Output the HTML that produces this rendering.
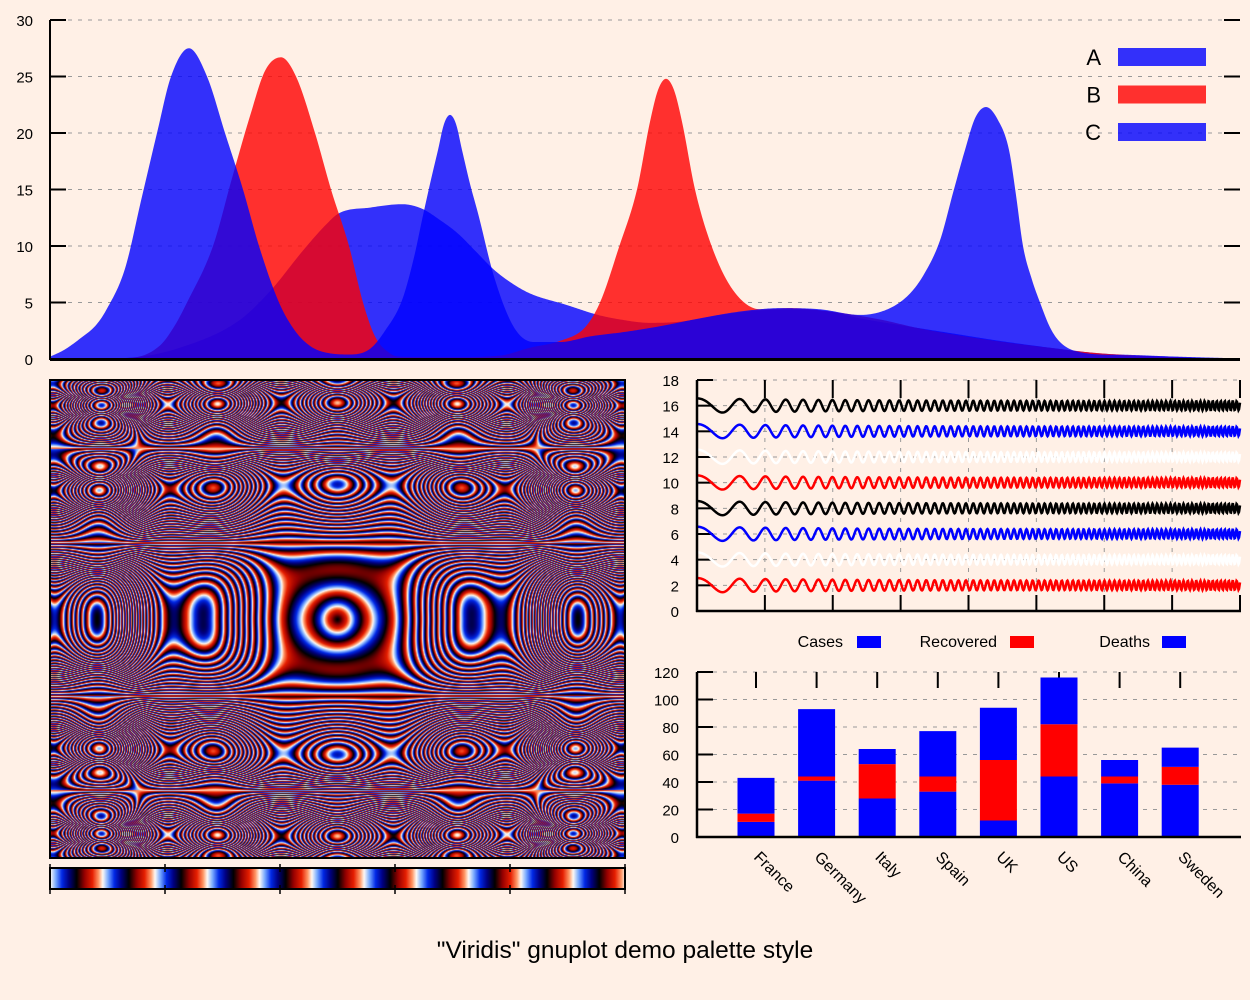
<!DOCTYPE html>
<html><head><meta charset="utf-8">
<style>
html,body{margin:0;padding:0;background:#fff0e6;}
#wrap{position:relative;width:1250px;height:1000px;overflow:hidden;background:#fff0e6;font-family:"Liberation Sans",sans-serif;}
canvas{position:absolute;}
svg{position:absolute;left:0;top:0;}
</style></head>
<body>
<div id="wrap">
<canvas id="heat" width="575" height="478" style="left:50px;top:380px"></canvas>
<canvas id="cbar" width="575" height="21" style="left:50px;top:868px"></canvas>
<svg id="svg" width="1250" height="1000" xmlns="http://www.w3.org/2000/svg">
<text x="625" y="958" font-size="24.5" text-anchor="middle" font-family="Liberation Sans, sans-serif">"Viridis" gnuplot demo palette style</text>
</svg>
</div>
<script>
// ---- top area chart data (x in data units 0..119) ----
const aX = [0,5,7.8,13,18.9,22,25.3,27.5,28.9,32,35.2,37.2,39,40.8,42.6,44.4,46.2,48,51.6,54.8,57,60,63,67,71,75,78,81,85,90,95,100,105,110,115,119];
const aY = [0,0.05,0.1,1.0,3.4,6,9.6,11.8,12.9,13.4,13.7,13.3,12.3,11.1,9.5,7.9,6.7,5.8,4.8,3.9,3.5,3.2,3.3,3.9,4.3,4.4,4.2,3.6,3.0,2.3,1.6,1.0,0.5,0.3,0.1,0];
const bX = [0,8,11,12.5,13.7,16.3,18.2,20,21.5,23.1,24.6,26.5,28.1,29.9,31.3,32.5,34,35,40,45,48,51,53.5,55,56.9,58.7,60,60.8,61.6,62.4,63.2,64.5,66.2,68.3,71,74,78,83,87,93,99,105,113,119];
const bY = [0,0.1,1.2,3,5,10,16,21.5,25.5,26.7,25,20,15,10,5,2,0.5,0.2,0.15,0.3,1.0,1.6,2.8,5,9.9,15,21,23.8,24.8,23.8,21,15,9.9,6.1,4.4,4.5,4.2,3.5,2.7,1.8,1.1,0.5,0.15,0];
const cX = [0,1.4,3,4.6,5.6,7.5,9.1,10.7,12.1,13.9,15.7,17.5,19.3,20.9,22.9,24.5,26.1,28,30,32,33.5,35.2,36.4,37.2,38,38.8,39.4,40,40.6,41.2,42,42.8,44.4,46.4,48.4,51,54,57.5,61,65,69,73,77,81,84,86,87.4,89,90.3,91.5,92.5,93.6,94.7,95.9,96.6,97.3,98.2,99,100,101,103,107,113,119];
const cY = [0.2,0.8,1.8,3.0,4.3,8,14,20,25,27.5,25,20,15,10,5,2.5,1.1,0.5,0.4,0.9,2.5,5.2,9,12.3,15.5,18.5,20.8,21.6,20.8,18.5,15.5,12.9,7.3,2.8,1.5,1.5,2.0,2.4,2.9,3.6,4.2,4.5,4.4,3.9,4.5,5.8,7.5,10.5,14.7,18.5,21.3,22.3,21.3,18.5,14.5,10,7,5,2.8,1.5,0.6,0.35,0.2,0.05];
const topTicks = [0,5,10,15,20,25,30];
const legendNames = ["A","B","C"];

// ---- wave chart data ----
const waveOffsets = [2,4,6,8,10,12,14,16];
const waveColors = ["#ff0000","#ffffff","#0000ff","#000000","#ff0000","#ffffff","#0000ff","#000000"];
const waveTicks = [0,2,4,6,8,10,12,14,16,18];

// ---- bar chart data ----
const countries = ["France","Germany","Italy","Spain","UK","US","China","Sweden"];
const deaths = [11,41,28,33,12,44,39,38];
const recovered = [6,3,25,11,44,38,5,13];
const cases = [26,49,11,33,38,34,12,14];
const barTicks = [0,20,40,60,80,100,120];

const NS = "http://www.w3.org/2000/svg";
const svg = document.getElementById('svg');
function mk(tag, attrs, parent){
  const e = document.createElementNS(NS, tag);
  for (const k in attrs) e.setAttribute(k, attrs[k]);
  (parent||svg).appendChild(e);
  return e;
}
function txt(x,y,s,size,anchor,parent){
  const t = mk('text',{x:x,y:y,'font-size':size,'text-anchor':anchor||'start','font-family':'Liberation Sans, sans-serif',fill:'#000'},parent);
  t.textContent = s; return t;
}

// monotone cubic interpolation
function mono(xs, ys){
  const n = xs.length, d=[], m=[];
  for(let i=0;i<n-1;i++) d.push((ys[i+1]-ys[i])/(xs[i+1]-xs[i]));
  m.push(d[0]);
  for(let i=1;i<n-1;i++){ m.push(d[i-1]*d[i]<=0?0:(d[i-1]+d[i])/2); }
  m.push(d[n-2]);
  for(let i=0;i<n-1;i++){
    if(d[i]===0){m[i]=0;m[i+1]=0;continue;}
    const a=m[i]/d[i], b=m[i+1]/d[i], s=a*a+b*b;
    if(s>9){const t=3/Math.sqrt(s); m[i]=t*a*d[i]; m[i+1]=t*b*d[i];}
  }
  return function(x){
    let i=0; while(i<n-2 && x>xs[i+1]) i++;
    const h=xs[i+1]-xs[i], t=Math.max(0,Math.min(1,(x-xs[i])/h));
    const t2=t*t,t3=t2*t;
    return (2*t3-3*t2+1)*ys[i]+(t3-2*t2+t)*h*m[i]+(-2*t3+3*t2)*ys[i+1]+(t3-t2)*h*m[i+1];
  };
}

// ===== Top chart =====
const T = {x0:50,x1:1240,y0:359,y1:20,dmin:0,dmax:119,vmax:30};
const tx = d => T.x0 + (d-T.dmin)/(T.dmax-T.dmin)*(T.x1-T.x0);
const ty = v => T.y0 - v/T.vmax*(T.y0-T.y1);
const gTop = mk('g',{});


topTicks.forEach(v=>{
  const y = ty(v);
  if(v>0){
    const gl = mk('line',{x1:68,x2:1222,y1:y,y2:y,stroke:'#999','stroke-dasharray':'4,6','stroke-width':1},gTop);
    
    
  }
  mk('line',{x1:50,x2:66,y1:y,y2:y,stroke:'#000','stroke-width':2},gTop);
  mk('line',{x1:1224,x2:1240,y1:y,y2:y,stroke:'#000','stroke-width':2},gTop);
  const t = txt(33,y+6,String(v),15,'end',gTop);
  
  
});
const series = [[aX,aY,'rgba(0,0,255,0.8)','series-a-area'],[bX,bY,'rgba(255,0,0,0.8)','series-b-area'],[cX,cY,'rgba(0,0,255,0.8)','series-c-area']];
series.forEach(s=>{
  const f = mono(s[0],s[1]);
  let p = 'M'+tx(s[0][0])+','+ty(0);
  const px0 = tx(s[0][0]), px1 = tx(s[0][s[0].length-1]);
  for(let px=px0; px<=px1; px+=1){
    const d = T.dmin + (px-T.x0)/(T.x1-T.x0)*(T.dmax-T.dmin);
    p += ' L'+px.toFixed(1)+','+ty(Math.max(0,f(d))).toFixed(2);
  }
  p += ' L'+px1+','+ty(0)+' Z';
  const path = mk('path',{d:p,fill:s[2],stroke:'none'},gTop);
  
  
});
mk('line',{x1:50,x2:50,y1:20,y2:360,stroke:'#000','stroke-width':2},gTop);
mk('line',{x1:50,x2:1240,y1:359.5,y2:359.5,stroke:'#000','stroke-width':3},gTop);
const legColors = ['rgba(0,0,255,0.8)','rgba(255,0,0,0.8)','rgba(0,0,255,0.8)'];
legendNames.forEach((n,i)=>{
  const y = 57 + i*37.5;
  const t = txt(1101,y+8,n,22,'end',gTop);
  
  
  const r = mk('rect',{x:1118,y:y-9,width:88,height:18,fill:legColors[i]},gTop);
  
  
});

// ===== Wave chart =====
const W = {x0:697,x1:1240,y0:611,y1:380,vmax:18};
const wy = v => W.y0 - v/W.vmax*(W.y0-W.y1);
const gW = mk('g',{});


waveTicks.forEach(v=>{
  const y = wy(v);
  if(v>0){
    const gl = mk('line',{x1:713,x2:1240,y1:y,y2:y,stroke:'#999','stroke-dasharray':'4,6','stroke-width':1},gW);
    
    
  }
  mk('line',{x1:697,x2:713,y1:y,y2:y,stroke:'#000','stroke-width':2},gW);
  const t = txt(679,y+6,String(v),15,'end',gW);
  
  
});
for(let k=1;k<=8;k++){
  const x = 697 + k*(543/8);
  if(k<8) mk('line',{x1:x,x2:x,y1:398,y2:595,stroke:'#999','stroke-dasharray':'4,6','stroke-width':1},gW);
  mk('line',{x1:x,x2:x,y1:380,y2:398,stroke:'#000','stroke-width':2},gW);
  mk('line',{x1:x,x2:x,y1:595,y2:611,stroke:'#000','stroke-width':2},gW);
}
waveOffsets.forEach((off,i)=>{
  let p='';
  for(let u=0; u<=543; u+=0.5){
    const ph = 0.0277*u + 0.00045*u*u;
    const amp = 0.35 + 0.22*Math.exp(-u/150);
    const v = off + amp*Math.cos(Math.PI*ph);
    p += (u===0?'M':' L')+(697+u).toFixed(1)+','+wy(v).toFixed(2);
  }
  const path = mk('path',{d:p,fill:'none',stroke:waveColors[i],'stroke-width':2.5},gW);
  
  
});
mk('line',{x1:697,x2:697,y1:380,y2:612,stroke:'#000','stroke-width':2.5},gW);
mk('line',{x1:696,x2:1241,y1:611,y2:611,stroke:'#000','stroke-width':2.5},gW);

// ===== Bar chart =====
const B = {x0:697,x1:1240,y0:837,y1:672,vmax:120,c0:756,step:60.6,bw:37};
const by = v => B.y0 - v/B.vmax*(B.y0-B.y1);
const bx = i => B.c0 + i*B.step;
const gB = mk('g',{});


barTicks.forEach(v=>{
  const y = by(v);
  if(v>0){
    const gl = mk('line',{x1:713,x2:1240,y1:y,y2:y,stroke:'#999','stroke-dasharray':'4,6','stroke-width':1},gB);
    
    
  }
  mk('line',{x1:697,x2:713,y1:y,y2:y,stroke:'#000','stroke-width':2},gB);
  const t = txt(679,y+6,String(v),15,'end',gB);
  
  
});
countries.forEach((c,i)=>{
  const cx = bx(i);
  mk('line',{x1:cx,x2:cx,y1:672,y2:688,stroke:'#000','stroke-width':2},gB);
  const segs = [[deaths[i],'#0000ff','deaths'],[recovered[i],'#ff0000','recovered'],[cases[i],'#0000ff','cases']];
  let base = 0;
  segs.forEach(s=>{
    const r = mk('rect',{x:cx-B.bw/2,y:by(base+s[0]),width:B.bw,height:by(base)-by(base+s[0]),fill:s[1]},gB);
    
    
    base += s[0];
  });
  const t = txt(0,0,c,16,'start',gB);
  t.setAttribute('transform','translate('+(cx-3)+',858) rotate(45)');
  
  
});
mk('line',{x1:697,x2:697,y1:672,y2:838,stroke:'#000','stroke-width':2.5},gB);
mk('line',{x1:696,x2:1241,y1:837,y2:837,stroke:'#000','stroke-width':2.5},gB);
const legB = [['Cases',843,857,'#0000ff'],['Recovered',997,1010,'#ff0000'],['Deaths',1150,1162,'#0000ff']];
legB.forEach(l=>{
  const t = txt(l[1],647,l[0],16,'end',gB);
  
  
  const r = mk('rect',{x:l[2],y:636,width:24,height:12,fill:l[3]},gB);
  
  
});

// ===== Heatmap & colorbar frames =====
const gH = mk('g',{});


mk('rect',{x:50,y:380,width:575,height:478,fill:'none',stroke:'#000','stroke-width':2},gH);
mk('rect',{x:50,y:868,width:575,height:21,fill:'none',stroke:'#000','stroke-width':2},gH);
for(let k=0;k<=5;k++){
  const x = 50 + k*115;
  mk('line',{x1:x,x2:x,y1:864,y2:872,stroke:'#000','stroke-width':1.5},gH);
  mk('line',{x1:x,x2:x,y1:885,y2:894,stroke:'#000','stroke-width':1.5},gH);
}

// palette (cyclic)
const stops = [[0,0,0,0],[.15,150,0,0],[.3,230,30,0],[.42,255,150,100],[.5,255,250,245],[.6,120,170,255],[.72,0,40,230],[.85,0,0,130],[1,0,0,0]];
function pal(t){
  t = t - Math.floor(t);
  for(let i=0;i<stops.length-1;i++){
    const a=stops[i], b=stops[i+1];
    if(t<=b[0]){ const f=(t-a[0])/(b[0]-a[0]); return [a[1]+(b[1]-a[1])*f,a[2]+(b[2]-a[2])*f,a[3]+(b[3]-a[3])*f]; }
  }
  return [0,0,0];
}
(function(){
  const c = document.getElementById('heat'), ctx = c.getContext('2d');
  const W=575,H=478, img = ctx.createImageData(W,H), sc = 55, ka = 0.00454;
  for(let j=0;j<H;j++){
    const yp = Math.abs(j-239), Y = yp/sc;
    const C = Math.cos(ka*Math.pow(yp,1.35));
    for(let i=0;i<W;i++){
      const X = (i-287)/sc;
      const r2 = X*X + Y*Y;
      const v = C*Math.pow(r2,0.7)*(1+0.25*Math.cos(3*X)) + 0.03*Y*Y*(1-C*C);
      const col = pal(Math.abs(v)/0.33);
      const k = (j*W+i)*4;
      img.data[k]=col[0]; img.data[k+1]=col[1]; img.data[k+2]=col[2]; img.data[k+3]=255;
    }
  }
  ctx.putImageData(img,0,0);
  const c2 = document.getElementById('cbar'), ctx2 = c2.getContext('2d');
  for(let i=0;i<575;i++){
    const col = pal(i/575*11 + 0.5);
    ctx2.fillStyle = 'rgb('+col.map(Math.round).join(',')+')';
    ctx2.fillRect(i,0,1,21);
  }
})();
</script>
</body></html>
